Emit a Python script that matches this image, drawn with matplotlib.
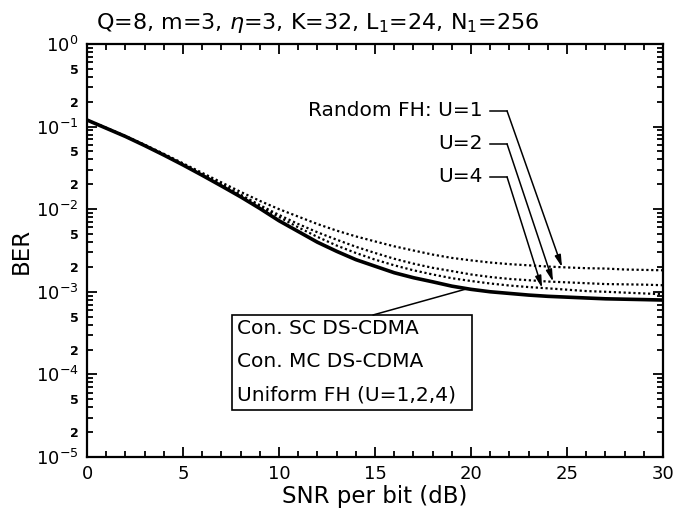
import numpy as np
import matplotlib
matplotlib.use("Agg")
import matplotlib.pyplot as plt
from matplotlib.patches import Rectangle

plt.rcParams['font.family'] = ['DejaVu Sans']
plt.rcParams['mathtext.fontset'] = 'dejavusans'

# ---- data ----
snr_db = list(range(0, 31))
ber_conv = [0.120, 0.0955, 0.0759, 0.0589, 0.0452, 0.0343, 0.0257, 0.0191, 0.0141,
            0.0102, 0.00724, 0.00537, 0.00398, 0.00309, 0.00245, 0.00204, 0.00170,
            0.00148, 0.00132, 0.00117, 0.00107, 0.00100, 0.000955, 0.000912,
            0.000881, 0.000861, 0.000841, 0.000822, 0.000813, 0.000804, 0.000794]
ber_u1 = [0.120, 0.0966, 0.0767, 0.0603, 0.0468, 0.0359, 0.0275, 0.0211, 0.0162,
          0.0126, 0.0100, 0.00813, 0.00661, 0.00550, 0.00468, 0.00407, 0.00355,
          0.00316, 0.00282, 0.00257, 0.00240, 0.00226, 0.00216, 0.00209, 0.00202,
          0.00197, 0.00193, 0.00191, 0.00186, 0.00184, 0.00182]
ber_u2 = [0.120, 0.0959, 0.0762, 0.0596, 0.0459, 0.0351, 0.0266, 0.0202, 0.0150,
          0.0112, 0.00851, 0.00661, 0.00525, 0.00427, 0.00351, 0.00295, 0.00251,
          0.00219, 0.00195, 0.00178, 0.00162, 0.00151, 0.00143, 0.00138, 0.00133,
          0.00130, 0.00127, 0.00124, 0.00123, 0.00122, 0.00120]
ber_u4 = [0.120, 0.0957, 0.0760, 0.0593, 0.0456, 0.0347, 0.0262, 0.0196, 0.0146,
          0.0108, 0.00804, 0.00603, 0.00462, 0.00363, 0.00295, 0.00245, 0.00209,
          0.00182, 0.00162, 0.00146, 0.00135, 0.00126, 0.00119, 0.00114, 0.00110,
          0.00106, 0.00102, 0.00100, 0.000977, 0.000955, 0.000933]

x_ticks = [0, 5, 10, 15, 20, 25, 30]
y_decades = [-5, -4, -3, -2, -1, 0]
y_minor_labeled = [2, 5]

title_text = r'Q=8, m=3, $\eta$=3, K=32, L$_1$=24, N$_1$=256'
xlabel_text = 'SNR per bit (dB)'
ylabel_text = 'BER'
box_lines = ['Con. SC DS-CDMA', 'Con. MC DS-CDMA', 'Uniform FH (U=1,2,4)']
fh_labels = ['Random FH: U=1', 'U=2', 'U=4']
fh_targets_db = [24.74, 24.27, 23.7]

# ---- figure ----
fig = plt.figure(figsize=(6.73, 5.19), dpi=100)
ax = fig.add_axes([0.1293, 0.1195, 0.8559, 0.7958])

dot = (0, (1, 1.2))
ax.plot(snr_db, ber_u1, color='black', lw=1.6, linestyle=dot)
ax.plot(snr_db, ber_u2, color='black', lw=1.6, linestyle=dot)
ax.plot(snr_db, ber_u4, color='black', lw=1.6, linestyle=dot)
ax.plot(snr_db, ber_conv, color='black', lw=2.6)

ax.set_yscale('log')
ax.set_xlim(0, 30)
ax.set_ylim(1e-5, 1)

ax.set_xticks(x_ticks)
ax.set_xticklabels([str(t) for t in x_ticks])
ax.set_xticks(np.arange(0, 31, 1), minor=True)

major_y = [10.0 ** d for d in y_decades]
ax.set_yticks(major_y)
ax.set_yticklabels([r'$\mathregular{10^{%d}}$' % d for d in y_decades])
minor_y, minor_lab = [], []
for d in y_decades[:-1]:
    for m in range(2, 10):
        minor_y.append(m * 10.0 ** d)
        minor_lab.append(str(m) if m in y_minor_labeled else '')
ax.set_yticks(minor_y, minor=True)
ax.set_yticklabels(minor_lab, minor=True)

ax.tick_params(which='both', direction='in', top=True, right=True, width=1.3, color='black')
ax.tick_params(which='major', length=7, labelsize=13, pad=6)
ax.tick_params(axis='y', which='minor', length=4, labelsize=9, pad=6)
ax.tick_params(axis='x', which='minor', length=4)
for lab in ax.get_yticklabels(minor=True):
    lab.set_fontweight('bold')
for s in ax.spines.values():
    s.set_linewidth(1.6)

ax.set_xlabel(xlabel_text, fontsize=16.5, labelpad=1)
ax.set_ylabel(ylabel_text, fontsize=16.5, labelpad=2)

fig.text(0.143, 0.955, title_text, fontsize=16, ha='left', va='center')

# ---- random FH annotations ----
def log_interp(x, xs, ys):
    return 10 ** np.interp(x, xs, np.log10(ys))

series = [ber_u1, ber_u2, ber_u4]
text_y = [0.8378, 0.7579, 0.678]
for lab, ty, tx_db, ys in zip(fh_labels, text_y, fh_targets_db, series):
    ax.text(0.6875, ty, lab, transform=ax.transAxes, fontsize=14.5,
            ha='right', va='center')
    ax.plot([0.6997, 0.7292], [ty, ty], transform=ax.transAxes, color='black', lw=1.1)
    ax.annotate('', xy=(tx_db, log_interp(tx_db, snr_db, ys)), xycoords='data',
                xytext=(0.7292, ty), textcoords='axes fraction',
                arrowprops=dict(arrowstyle='-|>,head_length=0.7,head_width=0.18',
                                color='black', lw=1.1, shrinkA=0, shrinkB=0,
                                mutation_scale=10))

# ---- box for conventional schemes ----
ax.add_patch(Rectangle((0.2517, 0.1138), 0.4163, 0.23, transform=ax.transAxes,
                       fill=True, facecolor='white', edgecolor='black', lw=1.2, zorder=3))
for ty, line in zip([0.312, 0.230, 0.150], box_lines):
    ax.text(0.261, ty, line, transform=ax.transAxes, fontsize=14.5,
            ha='left', va='center', zorder=4)
ax.annotate('', xy=(19.8, log_interp(19.8, snr_db, ber_conv)), xycoords='data',
            xytext=(0.4965, 0.3438), textcoords='axes fraction',
            arrowprops=dict(arrowstyle='-', color='black', lw=1.1,
                            shrinkA=0, shrinkB=0))

fig.savefig('out.png', dpi=100)
